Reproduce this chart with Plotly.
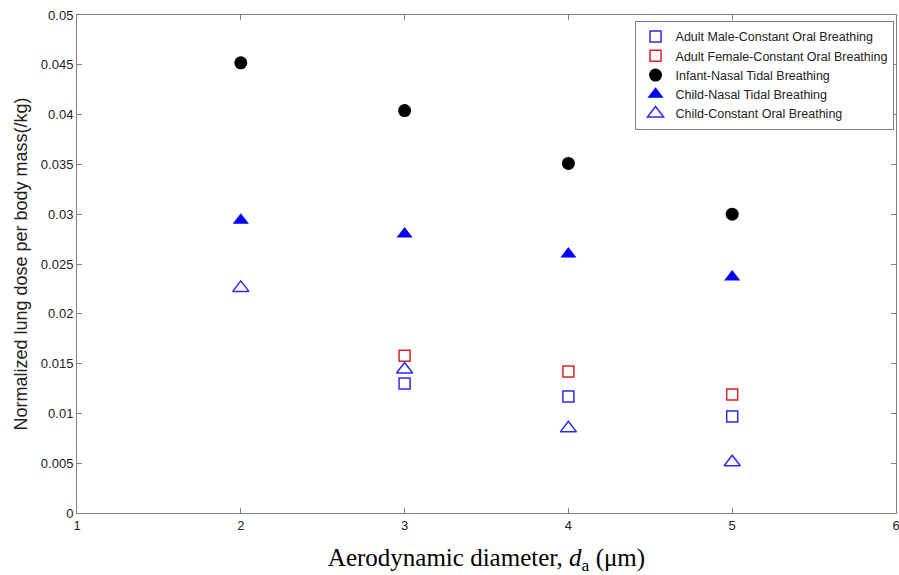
import plotly.graph_objects as go

x_vals = [2, 3, 4, 5]
x_adult = [3, 4, 5]
adult_male = [0.0130, 0.0117, 0.0097]
adult_female = [0.0158, 0.0142, 0.0119]
infant_nasal = [0.0452, 0.0404, 0.0351, 0.0300]
child_nasal = [0.0294, 0.0280, 0.0260, 0.0237]
child_oral = [0.0226, 0.0144, 0.0085, 0.0051]

fig = go.Figure()
fig.add_trace(go.Scatter(x=x_adult, y=adult_male, mode="markers",
    name="Adult Male-Constant Oral Breathing",
    marker=dict(symbol="square-open", size=11, color="#2a2aff", line=dict(width=1.5))))
fig.add_trace(go.Scatter(x=x_adult, y=adult_female, mode="markers",
    name="Adult Female-Constant Oral Breathing",
    marker=dict(symbol="square-open", size=11, color="#e02020", line=dict(width=1.5))))
fig.add_trace(go.Scatter(x=x_vals, y=infant_nasal, mode="markers",
    name="Infant-Nasal Tidal Breathing",
    marker=dict(symbol="circle", size=13, color="black")))
fig.add_trace(go.Scatter(x=x_vals, y=child_nasal, mode="markers",
    name="Child-Nasal Tidal Breathing",
    marker=dict(symbol="triangle-up", size=14, color="#0000ff")))
fig.add_trace(go.Scatter(x=x_vals, y=child_oral, mode="markers",
    name="Child-Constant Oral Breathing",
    marker=dict(symbol="triangle-up-open", size=14, color="#2a2aff", line=dict(width=1.5))))

FONT = "Liberation Sans, Arial, sans-serif"
axis_common = dict(showline=True, linecolor="#808080", linewidth=1, mirror="ticks",
                   ticks="inside", ticklen=5, tickcolor="#808080", showgrid=False,
                   zeroline=False, automargin=False, ticklabeloverflow="allow",
                   tickfont=dict(family=FONT, size=13, color="#222"))

fig.update_layout(
    width=899, height=575,
    paper_bgcolor="white", plot_bgcolor="white",
    margin=dict(l=77, r=3, t=15, b=62, autoexpand=False),
    showlegend=True,
    legend=dict(x=0.997, y=0.988, xanchor="right", yanchor="top",
                bordercolor="#808080", borderwidth=1, bgcolor="white",
                font=dict(family=FONT, size=12.5, color="#222"),
                tracegroupgap=0, itemwidth=30),
    xaxis=dict(range=[1, 6], dtick=1, tick0=1,
               title=dict(text="Aerodynamic diameter, <i>d</i><sub>a</sub> (μm)",
                          font=dict(family="Liberation Serif, Times New Roman, serif", size=25, color="black"),
                          standoff=17),
               **axis_common),
    yaxis=dict(range=[0, 0.05], dtick=0.005, tick0=0,
               title=dict(text="Normalized lung dose per body mass(/kg)",
                          font=dict(family=FONT, size=18, color="#222"),
                          standoff=8),
               **axis_common),
)

# remove the default 8px page margin so the 899x575 figure fills the window exactly
fig.write_html("out.html",
               config={"displayModeBar": False},
               post_script="document.body.style.margin='0';document.body.style.overflow='hidden';")
